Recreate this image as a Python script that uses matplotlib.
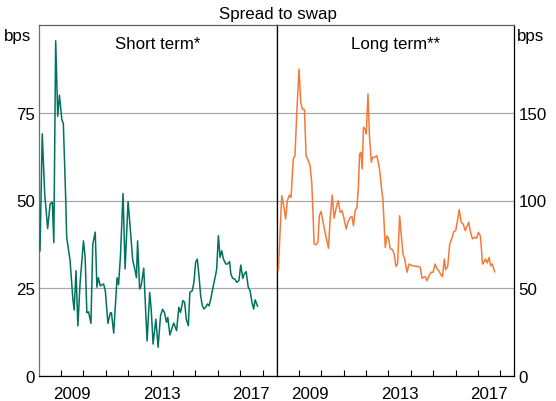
import matplotlib
matplotlib.use('Agg')
import matplotlib.pyplot as plt
import numpy as np

plt.rcParams['font.family'] = ['Liberation Sans', 'DejaVu Sans']

# months since Jan 2008 and values (bps)
short_months = [0.7, 1.9, 3.2, 4.8, 6.1, 7.3, 8.1, 9.1, 10.2, 11.1, 12.4, 13.2, 14.5, 15, 16.8, 18.3, 19, 20, 21,
                22.2, 24, 24.9, 25.8, 26.7, 28, 29, 30.3, 31.2, 32, 33, 34.8, 35.7, 37.1, 38.4, 39, 40.2, 42, 42.8,
                43.8, 45.2, 46.3, 47.9, 49.1, 50.4, 51.3, 52.4, 53, 54.1, 54.9, 56.3, 57.2, 58.1, 59.5, 60.3, 61.3,
                62.8, 64, 65.3, 66.4, 67.4, 68.5, 69.2, 70.3, 71.6, 72.4, 73.9, 75.1, 76, 77.3, 78.2, 79.1, 80.2, 81,
                82.3, 83.2, 84.1, 85, 85.9, 86.8, 87.7, 88.6, 89.5, 90.4, 91.3, 92.2, 93.6, 94.9, 95.4, 96.3, 97.2,
                98.1, 99, 100.3, 101.2, 102.3, 103, 104, 105.1, 106.2, 107.3, 108.3, 109.4, 110.1, 111.2, 112.3,
                113.3, 114.3, 115.2, 116, 117.3]
short_values = [35.7, 69, 52, 42, 49, 49.5, 38, 95.5, 74, 80, 73, 72, 50, 39.5, 33, 22, 18.8, 30, 14.3,
                26.7, 38.5, 33.8, 18, 18.3, 15, 37.6, 41, 25.3, 28, 25.7, 26.2, 24.3, 15, 18, 18, 12.2, 28, 26,
                34, 52, 30.5, 49.7, 41.9, 32.9, 31, 28, 38.5, 24.8, 25.7, 30.7, 20, 10, 23.8, 19, 9.1,
                16.2, 8.2, 17.2, 19, 18.1, 15.3, 16.7, 11.7, 13.9, 15.1, 12.9, 19.6, 18.1, 21.5, 21, 16.2, 14.3, 23.8,
                24.3, 26.7, 32.4, 33.3, 28.6, 22.9, 20, 19.1, 19.6, 20.5, 20, 21.9, 25.7, 29, 30.5, 40, 33.8,
                35.7, 33.3, 31.9, 31.9, 32.6, 29, 27.8, 27.6, 26.7, 27.2, 31.6, 27.8, 29, 29.7, 25.3,
                24.3, 21, 19.1, 21.7, 19.9]

long_months = [0.9, 2.7, 3.9, 4.8, 5.7, 6.8, 7.7, 8.9, 9.8, 10.8, 12, 12.9, 13.8, 14.9, 15.8, 17, 17.9, 18.8,
               19.4, 20.1, 21.2, 22.1, 22.9, 23.8, 25.1, 26.5, 27.8, 28.7, 29.8, 30.8, 31.9, 33, 34.1, 35, 35.8,
               37.3, 38.2, 39.5, 40.4, 41.2, 42.1, 43.1, 43.9, 44.5, 45.2, 45.9, 46.6, 47.4, 48.1, 49, 49.8,
               50.8, 51.5, 52.5, 53.8, 55.2, 56.5, 57, 58.3, 59.2, 60.1, 61, 62.2, 63.1, 64, 64.9, 66, 66.9,
               67.8, 68.7, 70, 71, 72.1, 73.2, 74.4, 75.7, 77.1, 78, 78.9, 79.8, 80.7, 81.8, 82.9, 84, 85,
               86.1, 87, 87.9, 89, 90, 90.7, 91.8, 92.9, 94.2, 95, 96.1, 96.9, 98, 99, 100.1, 101.2, 102.3,
               103.1, 104, 105.1, 106.2, 107.3, 108.3, 109.4, 110.5, 111.2, 112.1, 113, 114.1, 114.8, 115.7, 117]
long_values = [60.4, 102.7, 96.1, 89.5, 99.9, 103.1, 101.8, 123.6, 125.5, 150.3, 174.9, 156, 152.1, 151.7,
               125.5, 122.7, 119.8, 110.4, 95.2, 75.2, 74.8, 76.2, 91.3, 93.8, 86.6, 79, 72.8, 89.5, 103.1,
               89.9, 95.6, 99.9, 93.3, 94.2, 91.3, 83.8, 87.6, 90.4, 90.8, 85.6, 94.2, 96.1, 108.4, 126.5,
               127.5, 118, 141.7, 140.7, 137.9, 160.7, 136.9, 121.8, 124.6, 124.6, 125.5, 118, 104.7, 100.9,
               73.3, 79.9, 78.1, 72.4, 72, 69.5, 62.5, 63.8, 91.3, 79.9, 69.5, 66.7, 59.1, 63.8, 63.2, 62.8,
               62.5, 62.5, 61.9, 55.7, 56.2, 56.6, 54.3, 57.2, 59.1, 59.1, 63.8, 61, 60, 58.1, 56.6, 66.7,
               60.6, 62.5, 75.2, 79, 82.2, 82.8, 87.6, 94.8, 87.6, 86.6, 82.8, 85.6, 87.6, 82.2, 78.1, 79,
               78.5, 81.9, 79.6, 63.8, 64.8, 66.7, 64.4, 67.6, 62.8, 63.8, 59.4]

left_ticks = [0, 25, 50, 75]
right_ticks = [0, 50, 100, 150]
year_labels = ['2009', '2013', '2017']

green = '#00725D'
orange = '#F57A38'
grid_col = '#a8a8a8'

short_x = 2008 + np.array(short_months) / 12.0
long_x = 2008 + np.array(long_months) / 12.0

W, H = 556, 402
fig = plt.figure(figsize=(W / 100, H / 100), dpi=100)
ax1 = fig.add_axes([38.7 / W, 25 / H, 238 / W, 351 / H])
ax2 = fig.add_axes([276.7 / W, 25 / H, 237.6 / W, 351 / H])

xmin, xmax = 2008.0, 2018.63
fs = 12.2

for ax, x, y, col, ymax, ticks, label in [
        (ax1, short_x, short_values, green, 100, left_ticks, 'Short term*'),
        (ax2, long_x, long_values, orange, 200, right_ticks, 'Long term**')]:
    ax.plot(x, y, color=col, lw=1.1, zorder=3)
    ax.set_xlim(xmin, xmax)
    ax.set_ylim(0, ymax)
    ax.set_yticks(ticks)
    ax.set_yticklabels([str(t) for t in ticks], fontsize=fs)
    ax.grid(axis='y', color=grid_col, lw=0.9, zorder=1)
    ax.set_xticks([int(l) + 0.5 for l in year_labels])
    ax.set_xticklabels(year_labels, fontsize=fs)
    ax.set_xticks(np.arange(2009, 2019), minor=True)
    ax.tick_params(axis='x', which='major', length=0, pad=7)
    ax.tick_params(axis='x', which='minor', direction='in', length=4.5, width=0.8, color='black')
    ax.tick_params(axis='y', length=0, pad=2.5)
    ax.text(0.5, 0.946, label, transform=ax.transAxes, ha='center', va='center', fontsize=fs)
    for s in ax.spines.values():
        s.set_linewidth(0.9)
        s.set_color('black')
    ax.spines['top'].set_color('#606060')

ax1.spines['left'].set_color('#707070')
ax2.yaxis.tick_right()
ax2.tick_params(axis='y', length=0, pad=3)

fig.text(278 / W, 1 - 14 / H, 'Spread to swap', ha='center', va='center', fontsize=fs)
fig.text(18 / W, 1 - 36 / H, 'bps', ha='center', va='center', fontsize=fs)
fig.text(531 / W, 1 - 36 / H, 'bps', ha='center', va='center', fontsize=fs)

fig.savefig('out.png', dpi=100)
